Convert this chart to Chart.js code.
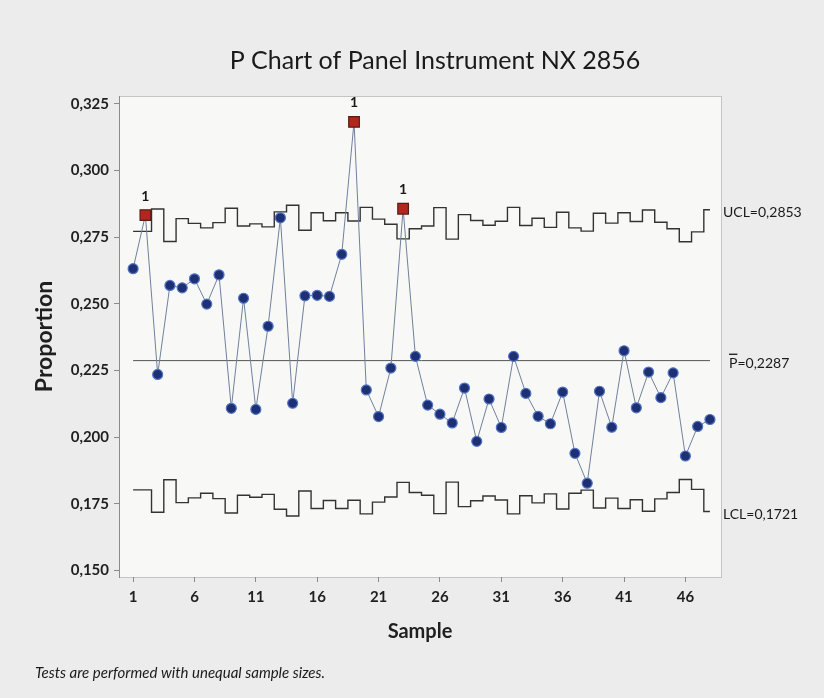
<!DOCTYPE html>
<html>
<head>
<meta charset="utf-8">
<title>P Chart of Panel Instrument NX 2856</title>
<script src="https://cdn.jsdelivr.net/npm/chart.js@4.4.1/dist/chart.umd.min.js"></script>
<style>
  html, body { margin: 0; padding: 0; background: #ececec; }
  #wrap { width: 824px; height: 698px; }
</style>
</head>
<body>
<div id="wrap"><canvas id="pchart" width="824" height="698"></canvas></div>
<script>
// sample numbers 1..48
const samples = Array.from({ length: 48 }, (_, i) => i + 1);

const proportion = [
  0.2632, 0.2833, 0.2235, 0.2569, 0.2560, 0.2594, 0.2499, 0.2609, 0.2108, 0.2521,
  0.2104, 0.2416, 0.2823, 0.2127, 0.2530, 0.2532, 0.2528, 0.2686, 0.3183, 0.2177,
  0.2077, 0.2259, 0.2857, 0.2303, 0.2120, 0.2086, 0.2053, 0.2184, 0.1984, 0.2143,
  0.2036, 0.2303, 0.2164, 0.2078, 0.2050, 0.2169, 0.1939, 0.1827, 0.2172, 0.2037,
  0.2324, 0.2110, 0.2244, 0.2148, 0.2241, 0.1929, 0.2040, 0.2066,
];

// limits change per sample (unequal sample sizes)
const ucl = [
  0.2772, 0.2772, 0.2856, 0.2734, 0.2820, 0.2802, 0.2785, 0.2805, 0.2859, 0.2792,
  0.2800, 0.2789, 0.2845, 0.2870, 0.2776, 0.2842, 0.2812, 0.2842, 0.2811, 0.2862,
  0.2818, 0.2799, 0.2744, 0.2782, 0.2792, 0.2861, 0.2743, 0.2835, 0.2813, 0.2795,
  0.2810, 0.2862, 0.2794, 0.2821, 0.2787, 0.2844, 0.2785, 0.2773, 0.2840, 0.2803,
  0.2842, 0.2809, 0.2852, 0.2806, 0.2782, 0.2733, 0.2770, 0.2853,
];
const lcl = [
  0.1802, 0.1802, 0.1718, 0.1840, 0.1754, 0.1772, 0.1789, 0.1769, 0.1715, 0.1782,
  0.1774, 0.1785, 0.1729, 0.1704, 0.1798, 0.1732, 0.1762, 0.1732, 0.1763, 0.1712,
  0.1756, 0.1775, 0.1830, 0.1792, 0.1782, 0.1713, 0.1831, 0.1739, 0.1761, 0.1779,
  0.1764, 0.1712, 0.1780, 0.1753, 0.1787, 0.1730, 0.1789, 0.1801, 0.1734, 0.1771,
  0.1732, 0.1765, 0.1722, 0.1768, 0.1792, 0.1841, 0.1804, 0.1721,
];
const centerLine = 0.2287;

const xTicks = [1, 6, 11, 16, 21, 26, 31, 36, 41, 46];
const yTicks = [0.150, 0.175, 0.200, 0.225, 0.250, 0.275, 0.300, 0.325];

const comma = (v, d) => v.toFixed(d).replace(".", ",");

// test 1: point outside its own limits
const outOfControl = proportion.map((p, i) => p > ucl[i] || p < lcl[i]);

const FONT = "Lato";

const decorations = {
  id: "decorations",
  beforeDraw(chart) {
    const { ctx, chartArea: a } = chart;
    ctx.save();
    ctx.fillStyle = "#ececec";
    ctx.fillRect(0, 0, chart.width, chart.height);
    ctx.fillStyle = "#f8f8f7";
    ctx.fillRect(a.left, a.top, a.right - a.left, a.bottom - a.top);
    ctx.strokeStyle = "#c4c4c4";
    ctx.lineWidth = 1;
    ctx.strokeRect(a.left + 0.5, a.top + 0.5, a.right - a.left, a.bottom - a.top);
    ctx.restore();
  },
  afterDatasetsDraw(chart) {
    const { ctx } = chart;
    const meta = chart.getDatasetMeta(0);
    ctx.save();
    ctx.fillStyle = "#1a1a1a";
    ctx.font = "bold 14px " + FONT;
    ctx.textAlign = "center";
    ctx.textBaseline = "middle";
    meta.data.forEach((pt, i) => {
      if (outOfControl[i]) ctx.fillText("1", pt.x, pt.y - 19);
    });
    ctx.restore();
  },
  afterDraw(chart) {
    const { ctx, chartArea: a, scales } = chart;
    const y = scales.y;
    const last = samples.length - 1;
    ctx.save();
    ctx.fillStyle = "#1a1a1a";

    // title
    ctx.font = "25px " + FONT;
    ctx.textAlign = "center";
    ctx.textBaseline = "middle";
    ctx.fillText("P Chart of Panel Instrument NX 2856", 435, 61);

    // limit labels on the right
    ctx.font = "14px " + FONT;
    ctx.textAlign = "left";
    const lx = a.right + 2;
    ctx.fillText("UCL=" + comma(ucl[last], 4), lx, y.getPixelForValue(ucl[last]) + 3);
    const py = y.getPixelForValue(centerLine) + 3;
    ctx.fillText("P=" + comma(centerLine, 4), lx + 6, py);
    const pw = ctx.measureText("P").width;
    ctx.fillRect(lx + 6, py - 10, pw, 1.3);
    ctx.fillText("LCL=" + comma(lcl[last], 4), lx, y.getPixelForValue(lcl[last]) + 3);

    // footnote
    ctx.font = "italic 15px " + FONT;
    ctx.fillText("Tests are performed with unequal sample sizes.", 35, 673);
    ctx.restore();
  },
};

new Chart(document.getElementById("pchart"), {
  type: "line",
  data: {
    datasets: [
      {
        label: "Proportion",
        data: samples.map((s, i) => ({ x: s, y: proportion[i] })),
        borderColor: "#6f819c",
        borderWidth: 1,
        pointStyle: (c) => (outOfControl[c.dataIndex] ? "rect" : "circle"),
        pointRadius: (c) => (outOfControl[c.dataIndex] ? 7.5 : 5),
        pointBackgroundColor: (c) => (outOfControl[c.dataIndex] ? "#b3261e" : "#1f2f74"),
        pointBorderColor: (c) => (outOfControl[c.dataIndex] ? "#5a1a12" : "#4f74c4"),
        pointBorderWidth: 1.2,
        order: 0,
      },
      {
        label: "UCL",
        data: samples.map((s, i) => ({ x: s, y: ucl[i] })),
        stepped: "middle",
        borderColor: "#333333",
        borderWidth: 1.4,
        pointRadius: 0,
        order: 1,
      },
      {
        label: "LCL",
        data: samples.map((s, i) => ({ x: s, y: lcl[i] })),
        stepped: "middle",
        borderColor: "#333333",
        borderWidth: 1.4,
        pointRadius: 0,
        order: 2,
      },
      {
        label: "P-bar",
        data: [
          { x: samples[0], y: centerLine },
          { x: samples[samples.length - 1], y: centerLine },
        ],
        borderColor: "#555555",
        borderWidth: 1,
        pointRadius: 0,
        order: 3,
      },
    ],
  },
  options: {
    responsive: false,
    animation: false,
    layout: {
      padding: { left: 31, right: 103, top: 96, bottom: 54 },
    },
    plugins: {
      legend: { display: false },
      tooltip: { enabled: false },
    },
    scales: {
      x: {
        type: "linear",
        min: -0.15,
        max: 48.9,
        afterBuildTicks: (axis) => {
          axis.ticks = xTicks.map((v) => ({ value: v }));
        },
        afterFit: (axis) => {
          axis.height = 67;
        },
        grid: { drawOnChartArea: false, drawTicks: true, tickLength: 5, color: "#8a8a8a" },
        border: { display: false },
        ticks: {
          autoSkip: false,
          maxRotation: 0,
          padding: 6,
          color: "#1f1f1f",
          font: { family: FONT, size: 15, weight: "bold" },
        },
        title: {
          display: true,
          text: "Sample",
          color: "#1f1f1f",
          padding: 0,
          font: { family: FONT, size: 20, weight: "bold" },
        },
      },
      y: {
        min: 0.1475,
        max: 0.328,
        afterBuildTicks: (axis) => {
          axis.ticks = yTicks.map((v) => ({ value: v }));
        },
        afterFit: (axis) => {
          axis.width = 88;
        },
        grid: { drawOnChartArea: false, drawTicks: true, tickLength: 5, color: "#8a8a8a" },
        border: { display: true, color: "#8a8a8a" },
        ticks: {
          padding: 5,
          color: "#1f1f1f",
          font: { family: FONT, size: 15, weight: "bold" },
          callback: (v) => comma(v, 3),
        },
        title: {
          display: true,
          text: "Proportion",
          color: "#1f1f1f",
          padding: 0,
          font: { family: FONT, size: 23, weight: "bold" },
        },
      },
    },
  },
  plugins: [decorations],
});
</script>
</body>
</html>
